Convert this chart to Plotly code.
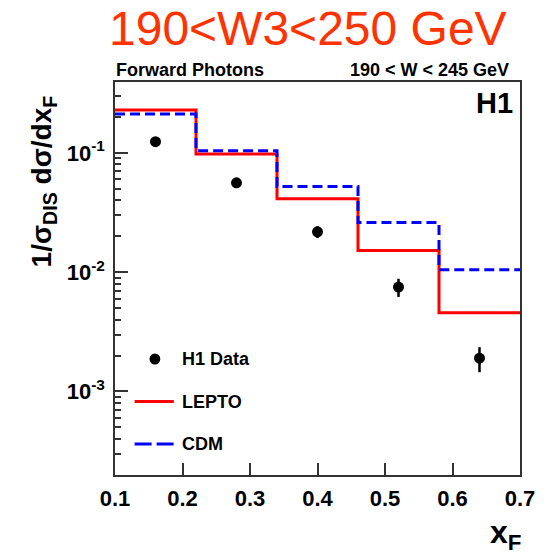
import plotly.graph_objects as go

# ---- data ----
bin_edges = [0.1, 0.22, 0.34, 0.46, 0.58, 0.7]
bin_centers = [0.16, 0.28, 0.40, 0.52, 0.64]
h1_data = [0.124, 0.0561, 0.0218, 0.0075, 0.0019]
h1_err = [0.004, 0.002, 0.0025, 0.0013, 0.00045]
lepto = [0.229, 0.098, 0.0412, 0.0152, 0.00457]
cdm = [0.212, 0.104, 0.0523, 0.0261, 0.0105]
y_tickvals = [1e-3, 1e-2, 1e-1]
y_ticktext = ["10<sup>-3</sup>", "10<sup>-2</sup>", "10<sup>-1</sup>"]
x_tickvals = [0.1, 0.2, 0.3, 0.4, 0.5, 0.6, 0.7]
legend_labels = ["H1 Data", "LEPTO", "CDM"]

FONT = "Liberation Sans, Arial, Helvetica, sans-serif"
L, T, W, H = 115, 82, 413, 393


def px2paper(px, py):
    return (px - L) / W, 1 - (py - T) / H


minor_vals = [m * 10.0 ** e for e in range(-4, 0) for m in range(2, 10)]
minor_vals = [v for v in minor_vals if 2.0e-4 <= v <= 0.39]

fig = go.Figure()
fig.add_trace(go.Scatter(
    x=bin_centers, y=h1_data, mode="markers", name=legend_labels[0],
    marker=dict(color="black", size=11),
    error_y=dict(type="data", array=h1_err, color="black", thickness=2.5, width=0),
))
fig.add_trace(go.Scatter(
    x=bin_edges, y=lepto + [lepto[-1]], mode="lines", name=legend_labels[1],
    line=dict(color="#ff0000", width=3, shape="hv"),
))
fig.add_trace(go.Scatter(
    x=bin_edges, y=cdm + [cdm[-1]], mode="lines", name=legend_labels[2],
    line=dict(color="#0000ff", width=3, shape="hv", dash="10px,5px"),
))

fig.update_layout(
    width=547, height=552,
    margin=dict(l=L, r=547 - L - W, t=T, b=552 - T - H),
    plot_bgcolor="white", paper_bgcolor="white",
    font=dict(family=FONT, color="black", size=18, weight="bold"),
    showlegend=False,
    xaxis=dict(range=[0.1, 0.7], tickvals=x_tickvals, ticks="inside", ticklen=12,
               tickwidth=1.5, tickcolor="#333", showline=True, linecolor="#333", linewidth=1.5,
               mirror=True, showgrid=False, zeroline=False, ticklabelstandoff=3,
               tickfont=dict(size=22, family=FONT, weight="bold")),
    yaxis=dict(type="log", range=[-3.7, -0.406], tickvals=y_tickvals, ticktext=y_ticktext,
               ticks="inside", ticklen=13, tickwidth=1.5, tickcolor="#333",
               showline=True, linecolor="#333", linewidth=1.5, mirror=True,
               showgrid=False, zeroline=False, ticklabelstandoff=4,
               tickfont=dict(size=22, family=FONT, weight="bold"),
               minor=dict(tickvals=minor_vals, ticks="inside", ticklen=6,
                          tickwidth=1.5, tickcolor="#333", showgrid=False)),
)

# ---- legend (drawn by hand to match the ROOT style keys) ----
leg_y = [359, 401.5, 444]
mx, my = px2paper(155.7, leg_y[0])
r = 5.5
fig.add_shape(type="circle", xref="paper", yref="paper",
              x0=mx - r / W, x1=mx + r / W, y0=my - r / H, y1=my + r / H,
              fillcolor="black", line=dict(color="black", width=0))
for yy, col, dash in [(leg_y[1], "#ff0000", "solid"), (leg_y[2], "#0000ff", "17px,5px")]:
    x0, y0 = px2paper(135, yy)
    x1, _ = px2paper(175, yy)
    fig.add_shape(type="line", xref="paper", yref="paper", x0=x0, x1=x1, y0=y0, y1=y0,
                  line=dict(color=col, width=3, dash=dash))

ann = [
    dict(text="190<W3<250 GeV", x=312, y=28, font=dict(size=48, color="#ff3300", family=FONT, weight="normal"),
         xanchor="center", yanchor="middle"),
    dict(text="Forward Photons", x=114, y=70, font=dict(size=18, family=FONT, weight="bold"),
         xanchor="left", yanchor="middle"),
    dict(text="190 < W < 245 GeV", x=519, y=70, font=dict(size=18, family=FONT, weight="bold"),
         xanchor="right", yanchor="middle"),
    dict(text="H1", x=523, y=103, font=dict(size=29, family=FONT, weight="bold"),
         xanchor="right", yanchor="middle"),
    dict(text="x<sub>F</sub>", x=513, y=534, font=dict(size=32, family=FONT, weight="bold"),
         xanchor="center", yanchor="middle"),
    dict(text="1/σ<sub>DIS</sub> dσ/dx<sub>F</sub>", x=42, y=181, textangle=-90,
         font=dict(size=28, family=FONT, weight="bold"), xanchor="center", yanchor="middle"),
]
for lab, yy in zip(legend_labels, leg_y):
    ann.append(dict(text=lab, x=181, y=yy, font=dict(size=18, family=FONT, weight="bold"),
                    xanchor="left", yanchor="middle"))
for a in ann:
    px, py = a.pop("x"), a.pop("y")
    ax, ay = px2paper(px, py)
    fig.add_annotation(xref="paper", yref="paper", x=ax, y=ay, showarrow=False, **a)

fig.write_html("out.html")
